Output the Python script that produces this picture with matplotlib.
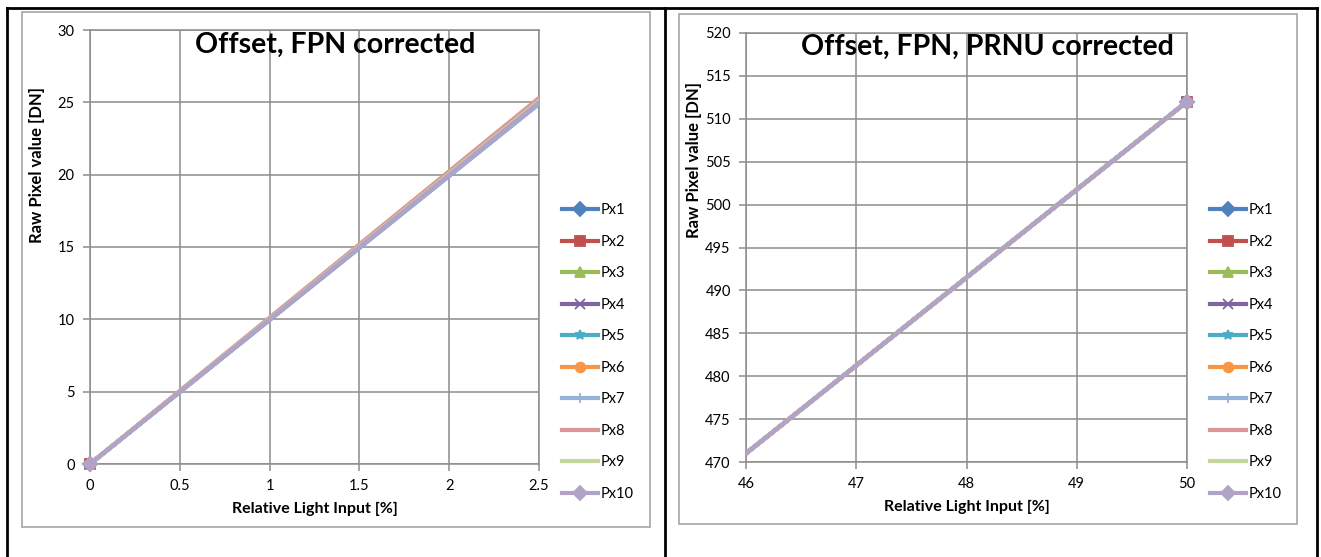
import numpy as np
import matplotlib.pyplot as plt
from matplotlib.lines import Line2D
from matplotlib.patches import Rectangle

plt.rcParams['font.family'] = ['Lato', 'DejaVu Sans']

labels = ["Px1", "Px2", "Px3", "Px4", "Px5", "Px6", "Px7", "Px8", "Px9", "Px10"]
colors = ["#4F81BD", "#C0504D", "#9BBB59", "#8064A2", "#4BACC6",
          "#F79646", "#95B3D7", "#D99694", "#C3D69B", "#B3A2C7"]
markers = ["D", "s", "^", "x", "*", "o", "+", "_", "", "D"]

# left panel: offset, FPN corrected
x_left = [0, 5]
y_left_end = [49.8, 50.2, 50.0, 50.0, 49.9, 50.4, 49.8, 50.6, 50.2, 50.0]

# right panel: offset, FPN, PRNU corrected
x_right = [40, 50]
y_right_start = [409.5] * 10
y_right_end = [512.0] * 10

fig = plt.figure(figsize=(13.21, 5.57), dpi=100)
W, H = 1321, 557


def px_axes(x0, x1, ytop, ybot):
    return fig.add_axes([x0 / W, 1 - ybot / H, (x1 - x0) / W, (ybot - ytop) / H])


# outer table lines and grey chart frames
for xx in [7, 665, 1317]:
    fig.add_artist(Line2D([xx / W, xx / W], [0, 1 - 8 / H], color="black", lw=2))
fig.add_artist(Line2D([7 / W, 1317 / W], [1 - 8 / H, 1 - 8 / H], color="black", lw=2))
for (fx0, fx1, fy0, fy1) in [(22, 650, 12, 527), (679, 1297, 14, 524)]:
    fig.add_artist(Rectangle((fx0 / W, 1 - fy1 / H), (fx1 - fx0) / W, (fy1 - fy0) / H,
                             fill=False, edgecolor="#A6A6A6", lw=1.2))


def style(ax, xticks, yticks, xlim, ylim):
    ax.set_xlim(*xlim)
    ax.set_ylim(*ylim)
    ax.set_xticks(xticks)
    ax.set_yticks(yticks)
    ax.grid(True, color="#8C8C8C", lw=1.1)
    ax.set_axisbelow(True)
    for s in ax.spines.values():
        s.set_color("#8C8C8C")
        s.set_linewidth(1.1)
    ax.tick_params(direction="out", length=5, width=1.1, color="#8C8C8C",
                   labelsize=10.5, pad=6)


def draw(ax, xs, ys_list, xlim):
    for i, ys in enumerate(ys_list):
        ax.plot(xs, ys, color=colors[i], lw=3, solid_capstyle="butt", zorder=3 + i)
        xin = [x for x in xs if xlim[0] <= x <= xlim[1]]
        yin = [y for x, y in zip(xs, ys) if xlim[0] <= x <= xlim[1]]
        if markers[i]:
            ax.plot(xin, yin, ls="none", marker=markers[i], color=colors[i],
                    markersize=7, mew=1.3, clip_on=False, zorder=3 + i)


ax1 = px_axes(90, 539, 30, 464)
draw(ax1, x_left, [[0, v] for v in y_left_end], (0, 2.5))
style(ax1, [0, 0.5, 1, 1.5, 2, 2.5], [0, 5, 10, 15, 20, 25, 30], (0, 2.5), (0, 30))
ax1.set_xticklabels(["0", "0.5", "1", "1.5", "2", "2.5"])

ax2 = px_axes(746, 1187, 33, 462)
draw(ax2, x_right, [[a, b] for a, b in zip(y_right_start, y_right_end)], (46, 50))
style(ax2, [46, 47, 48, 49, 50], list(range(470, 521, 5)), (46, 50), (470, 520))

# titles, axis labels
fig.text(335 / W, 1 - 45 / H, "Offset, FPN corrected", ha="center", va="center",
         fontsize=20.5, fontweight="bold")
fig.text(987 / W, 1 - 47 / H, "Offset, FPN, PRNU corrected", ha="center", va="center",
         fontsize=20.5, fontweight="bold")
fig.text(315 / W, 1 - 509 / H, "Relative Light Input [%]", ha="center", va="center",
         fontsize=11.5, fontweight="bold")
fig.text(967 / W, 1 - 507 / H, "Relative Light Input [%]", ha="center", va="center",
         fontsize=11.5, fontweight="bold")
fig.text(37 / W, 1 - 165 / H, "Raw Pixel value [DN]", ha="center", va="center",
         rotation=90, fontsize=12, fontweight="bold")
fig.text(694 / W, 1 - 160 / H, "Raw Pixel value [DN]", ha="center", va="center",
         rotation=90, fontsize=12, fontweight="bold")

handles = [Line2D([], [], color=colors[i], lw=3, marker=markers[i] or None,
                  markersize=7, mew=1.3) for i in range(10)]
for ax, xl in [(ax1, 562), (ax2, 1210)]:
    ax.legend(handles, labels, loc="center left", bbox_to_anchor=(xl / W, 1 - 352 / H),
              bbox_transform=fig.transFigure, frameon=False, fontsize=10.5,
              labelspacing=1.2, handlelength=2.5, handletextpad=0.15,
              borderpad=0, borderaxespad=0)

fig.savefig("out.png", dpi=100)
